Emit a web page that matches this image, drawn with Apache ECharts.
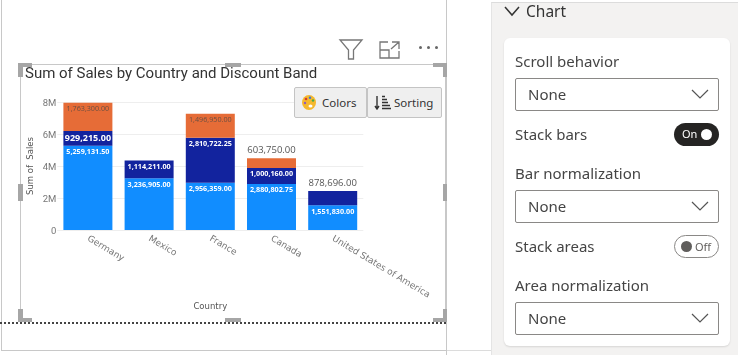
<!DOCTYPE html>
<html>
<head>
<meta charset="utf-8">
<title>Sum of Sales by Country and Discount Band</title>
<script src="https://cdn.jsdelivr.net/npm/echarts@6/dist/echarts.min.js"></script>
<style>
html, body { margin: 0; padding: 0; background: #fff; overflow: hidden; }
#page { position: relative; width: 738px; height: 355px; font-family: "Noto Sans", sans-serif; color: #444; }
#chart { position: absolute; left: 0; top: 0; width: 738px; height: 355px; }
.box { position: absolute; box-sizing: border-box; }
.txt { position: absolute; font-size: 15px; line-height: 20px; white-space: nowrap; color: #454545; }
.drop { position: absolute; box-sizing: border-box; left: 515px; width: 204px; height: 33px; background: #fff; border: 1px solid #8a8886; border-radius: 2px; font-size: 15px; line-height: 31px; padding-left: 12px; color: #444; }
.drop svg { position: absolute; right: 9px; top: 9px; }
.btn { position: absolute; box-sizing: border-box; top: 87px; height: 31px; background: #efefef; border: 1px solid #c4c4c4; border-radius: 2px; font-size: 11.5px; line-height: 29px; color: #333; white-space: nowrap; }
.handle { position: absolute; background: #a6a6a6; }
</style>
</head>
<body>
<div id="page">
  <!-- report canvas lines -->
  <div class="box" style="left:1px;top:0;width:1px;height:351px;background:#c8c8c8"></div>
  <div class="box" style="left:1px;top:350px;width:446px;height:1px;background:#c8c8c8"></div>
  <div class="box" style="left:446px;top:0;width:1px;height:355px;background:#c8c8c8"></div>
  <div class="box" style="left:0;top:322px;width:446px;height:0;border-top:2px dotted #444"></div>

  <!-- visual frame -->
  <div class="box" style="left:20px;top:64px;width:426px;height:258px;border:1px solid #c8c8c8;border-bottom:0"></div>

  <div id="chart"></div>

  <!-- handles -->
  <div class="handle" style="left:18px;top:63px;width:14px;height:4px"></div>
  <div class="handle" style="left:18px;top:63px;width:5px;height:14px"></div>
  <div class="handle" style="left:225px;top:63px;width:16px;height:4px"></div>
  <div class="handle" style="left:433px;top:63px;width:14px;height:4px"></div>
  <div class="handle" style="left:443px;top:63px;width:4px;height:14px"></div>
  <div class="handle" style="left:18px;top:184px;width:5px;height:17px"></div>
  <div class="handle" style="left:443px;top:184px;width:4px;height:17px"></div>
  <div class="handle" style="left:18px;top:309px;width:5px;height:13px"></div>
  <div class="handle" style="left:18px;top:318px;width:14px;height:4px"></div>
  <div class="handle" style="left:225px;top:318px;width:16px;height:4px"></div>
  <div class="handle" style="left:433px;top:318px;width:14px;height:4px"></div>
  <div class="handle" style="left:443px;top:309px;width:4px;height:13px"></div>

  <!-- visual header icons -->
  <svg class="box" style="left:338px;top:38px" width="26" height="24" viewBox="0 0 26 24" fill="none" stroke="#777" stroke-width="1.3">
    <path d="M2 2 H24 L15.5 12 V21 H10.5 V12 Z"/>
  </svg>
  <svg class="box" style="left:379px;top:40px" width="22" height="20" viewBox="0 0 22 20" fill="none" stroke="#777" stroke-width="1.3">
    <path d="M9 2 H1 V18 H20 V11 M1 10 H10 V18 M13 2 H20 V9 M20 2 L12 9"/>
  </svg>
  <div class="box" style="left:419px;top:46px;width:3px;height:3px;background:#666;border-radius:50%"></div>
  <div class="box" style="left:427px;top:46px;width:3px;height:3px;background:#666;border-radius:50%"></div>
  <div class="box" style="left:435px;top:46px;width:3px;height:3px;background:#666;border-radius:50%"></div>

  <!-- Colors and Sorting buttons -->
  <div class="btn" style="left:294px;width:73px;padding-left:27px">Colors</div>
  <svg class="box" style="left:301px;top:94px" width="16" height="17" viewBox="0 0 16 17">
    <ellipse cx="8" cy="8.5" rx="7" ry="7.5" fill="#f5b82e"/>
    <circle cx="5" cy="5" r="1.3" fill="#d9392b"/><circle cx="9" cy="3.8" r="1.2" fill="#3b78d8"/>
    <circle cx="12" cy="6.5" r="1.2" fill="#4aa84a"/><circle cx="4" cy="9" r="1.2" fill="#8e5bc2"/>
    <ellipse cx="9.5" cy="12" rx="2" ry="1.6" fill="#fff"/>
  </svg>
  <div class="btn" style="left:367px;width:75px;padding-left:26px">Sorting</div>
  <svg class="box" style="left:374px;top:95px" width="18" height="15" viewBox="0 0 18 15" fill="none" stroke="#333">
    <path d="M3 1 V13 M1 11 L3 14 L5 11" stroke-width="1.4"/>
    <path d="M8 1.5 H11 M8 4.5 H13 M8 7.5 H14 M8 10.5 H16 M8 13.5 H17" stroke-width="1.3"/>
  </svg>

  <!-- format pane -->
  <div class="box" style="left:491px;top:2px;width:247px;height:353px;background:#f3f2f1;border-top:1px solid #dcdcdc;border-left:1px solid #e4e4e4"></div>
  <div class="box" style="left:447px;top:350px;width:44px;height:1px;background:#dcdcdc"></div>
  <svg class="box" style="left:504px;top:5px" width="16" height="12" viewBox="0 0 16 12" fill="none" stroke="#333" stroke-width="1.5"><path d="M1 2 L8 10 L15 2"/></svg>
  <div class="txt" style="left:526px;top:1px;font-size:15.5px;color:#333">Chart</div>
  <div class="box" style="left:504px;top:38px;width:226px;height:308px;background:#fff;border-radius:6px;box-shadow:0 1px 2px rgba(0,0,0,.12)"></div>

  <div class="txt" style="left:515px;top:51px">Scroll behavior</div>
  <div class="drop" style="top:78px">None<svg width="18" height="12" viewBox="0 0 18 12" fill="none" stroke="#555" stroke-width="1.2"><path d="M1 2 L9 10 L17 2"/></svg></div>
  <div class="txt" style="left:515px;top:124px">Stack bars</div>
  <div class="box" style="left:674px;top:123px;width:45px;height:23px;background:#252423;border-radius:12px"></div>
  <div class="txt" style="left:682px;top:124px;font-size:11px;color:#fff">On</div>
  <div class="box" style="left:701px;top:129px;width:11px;height:11px;background:#fff;border-radius:50%"></div>
  <div class="txt" style="left:515px;top:163px">Bar normalization</div>
  <div class="drop" style="top:190px">None<svg width="18" height="12" viewBox="0 0 18 12" fill="none" stroke="#555" stroke-width="1.2"><path d="M1 2 L9 10 L17 2"/></svg></div>
  <div class="txt" style="left:515px;top:236px">Stack areas</div>
  <div class="box" style="left:674px;top:235px;width:45px;height:23px;background:#fff;border:1px solid #8a8886;border-radius:12px"></div>
  <div class="box" style="left:681px;top:241px;width:11px;height:11px;background:#605e5c;border-radius:50%"></div>
  <div class="txt" style="left:695px;top:237px;font-size:11px;color:#605e5c">Off</div>
  <div class="txt" style="left:515px;top:275px">Area normalization</div>
  <div class="drop" style="top:302px">None<svg width="18" height="12" viewBox="0 0 18 12" fill="none" stroke="#555" stroke-width="1.2"><path d="M1 2 L9 10 L17 2"/></svg></div>
</div>

<script>
var countries = ['Germany', 'Mexico', 'France', 'Canada', 'United States of America'];
// discount bands, bottom to top. 0 = band has no sales in that country
var bandLow = [5259131.5, 3236905, 2956359, 2880802.75, 1551830];
var bandMid = [929215, 1114211, 2810722.25, 1000160, 878696];
var bandHigh = [1763300, 0, 1496950, 603750, 0];
var yTicks = { 0: '0', 2000000: '2M', 4000000: '4M', 6000000: '6M', 8000000: '8M' };

var chart = echarts.init(document.getElementById('chart'), null, { renderer: 'canvas' });

function money(v) {
    return v.toLocaleString('en-US', { minimumFractionDigits: 2, maximumFractionDigits: 2 });
}

function makeSeries(values, color, textColor, weight) {
    return {
        type: 'bar',
        stack: 'sales',
        barWidth: 49,
        itemStyle: { color: color },
        data: values.map(function (v, i) {
            var item = { value: v };
            if (v === 0) {
                item.label = { show: false };
            } else if (v < 900000) {
                // too short to hold its label, sits above the bar
                item.label = { position: 'top', distance: 3, color: '#555', fontSize: 9.5, fontWeight: 'normal' };
            } else if (v === 929215) {
                item.label = { fontSize: 9 };
            }
            return item;
        }),
        label: {
            show: true,
            position: 'insideTop',
            distance: 3,
            color: textColor,
            fontFamily: 'Open Sans',
            fontWeight: weight,
            fontSize: 7.2,
            formatter: function (p) { return money(p.value); }
        }
    };
}

var option = {
    animation: false,
    backgroundColor: 'transparent',
    title: {
        text: 'Sum of Sales by Country and Discount Band',
        left: 25,
        top: 67,
        padding: 0,
        textStyle: { fontFamily: 'Roboto', fontSize: 15, fontWeight: 'normal', color: '#333' }
    },
    grid: { left: 57.3, top: 102, width: 306, height: 128 },
    xAxis: {
        type: 'category',
        data: countries,
        name: 'Country',
        nameLocation: 'middle',
        nameGap: 72,
        nameTextStyle: { fontFamily: 'DejaVu Sans', fontSize: 8.5, color: '#555' },
        axisLine: { show: false },
        axisTick: { show: false },
        axisLabel: {
            rotate: -31,
            interval: 0,
            margin: 8,
            fontFamily: 'DejaVu Sans',
            fontSize: 9,
            color: '#777'
        }
    },
    yAxis: {
        type: 'value',
        min: 0,
        max: 8000000,
        interval: 2000000,
        name: 'Sum of  Sales',
        nameLocation: 'middle',
        nameGap: 22,
        nameTextStyle: { fontFamily: 'DejaVu Sans', fontSize: 8.5, color: '#555' },
        axisLine: { show: false },
        axisTick: { show: false },
        splitLine: { lineStyle: { color: '#eeeeee', width: 1 } },
        axisLabel: {
            margin: 1,
            formatter: function (v) { return '{t|' + yTicks[v] + '}'; },
            rich: {
                t: { fontFamily: 'Roboto', fontSize: 9.5, color: '#777', padding: [4, 0, 0, 0] }
            }
        }
    },
    series: [
        makeSeries(bandLow, '#118DFF', '#ffffff', 'bold'),
        makeSeries(bandMid, '#12239E', '#ffffff', 'bold'),
        makeSeries(bandHigh, '#E66C37', '#6b4f42', 'normal')
    ]
};
chart.setOption(option);
</script>
</body>
</html>
